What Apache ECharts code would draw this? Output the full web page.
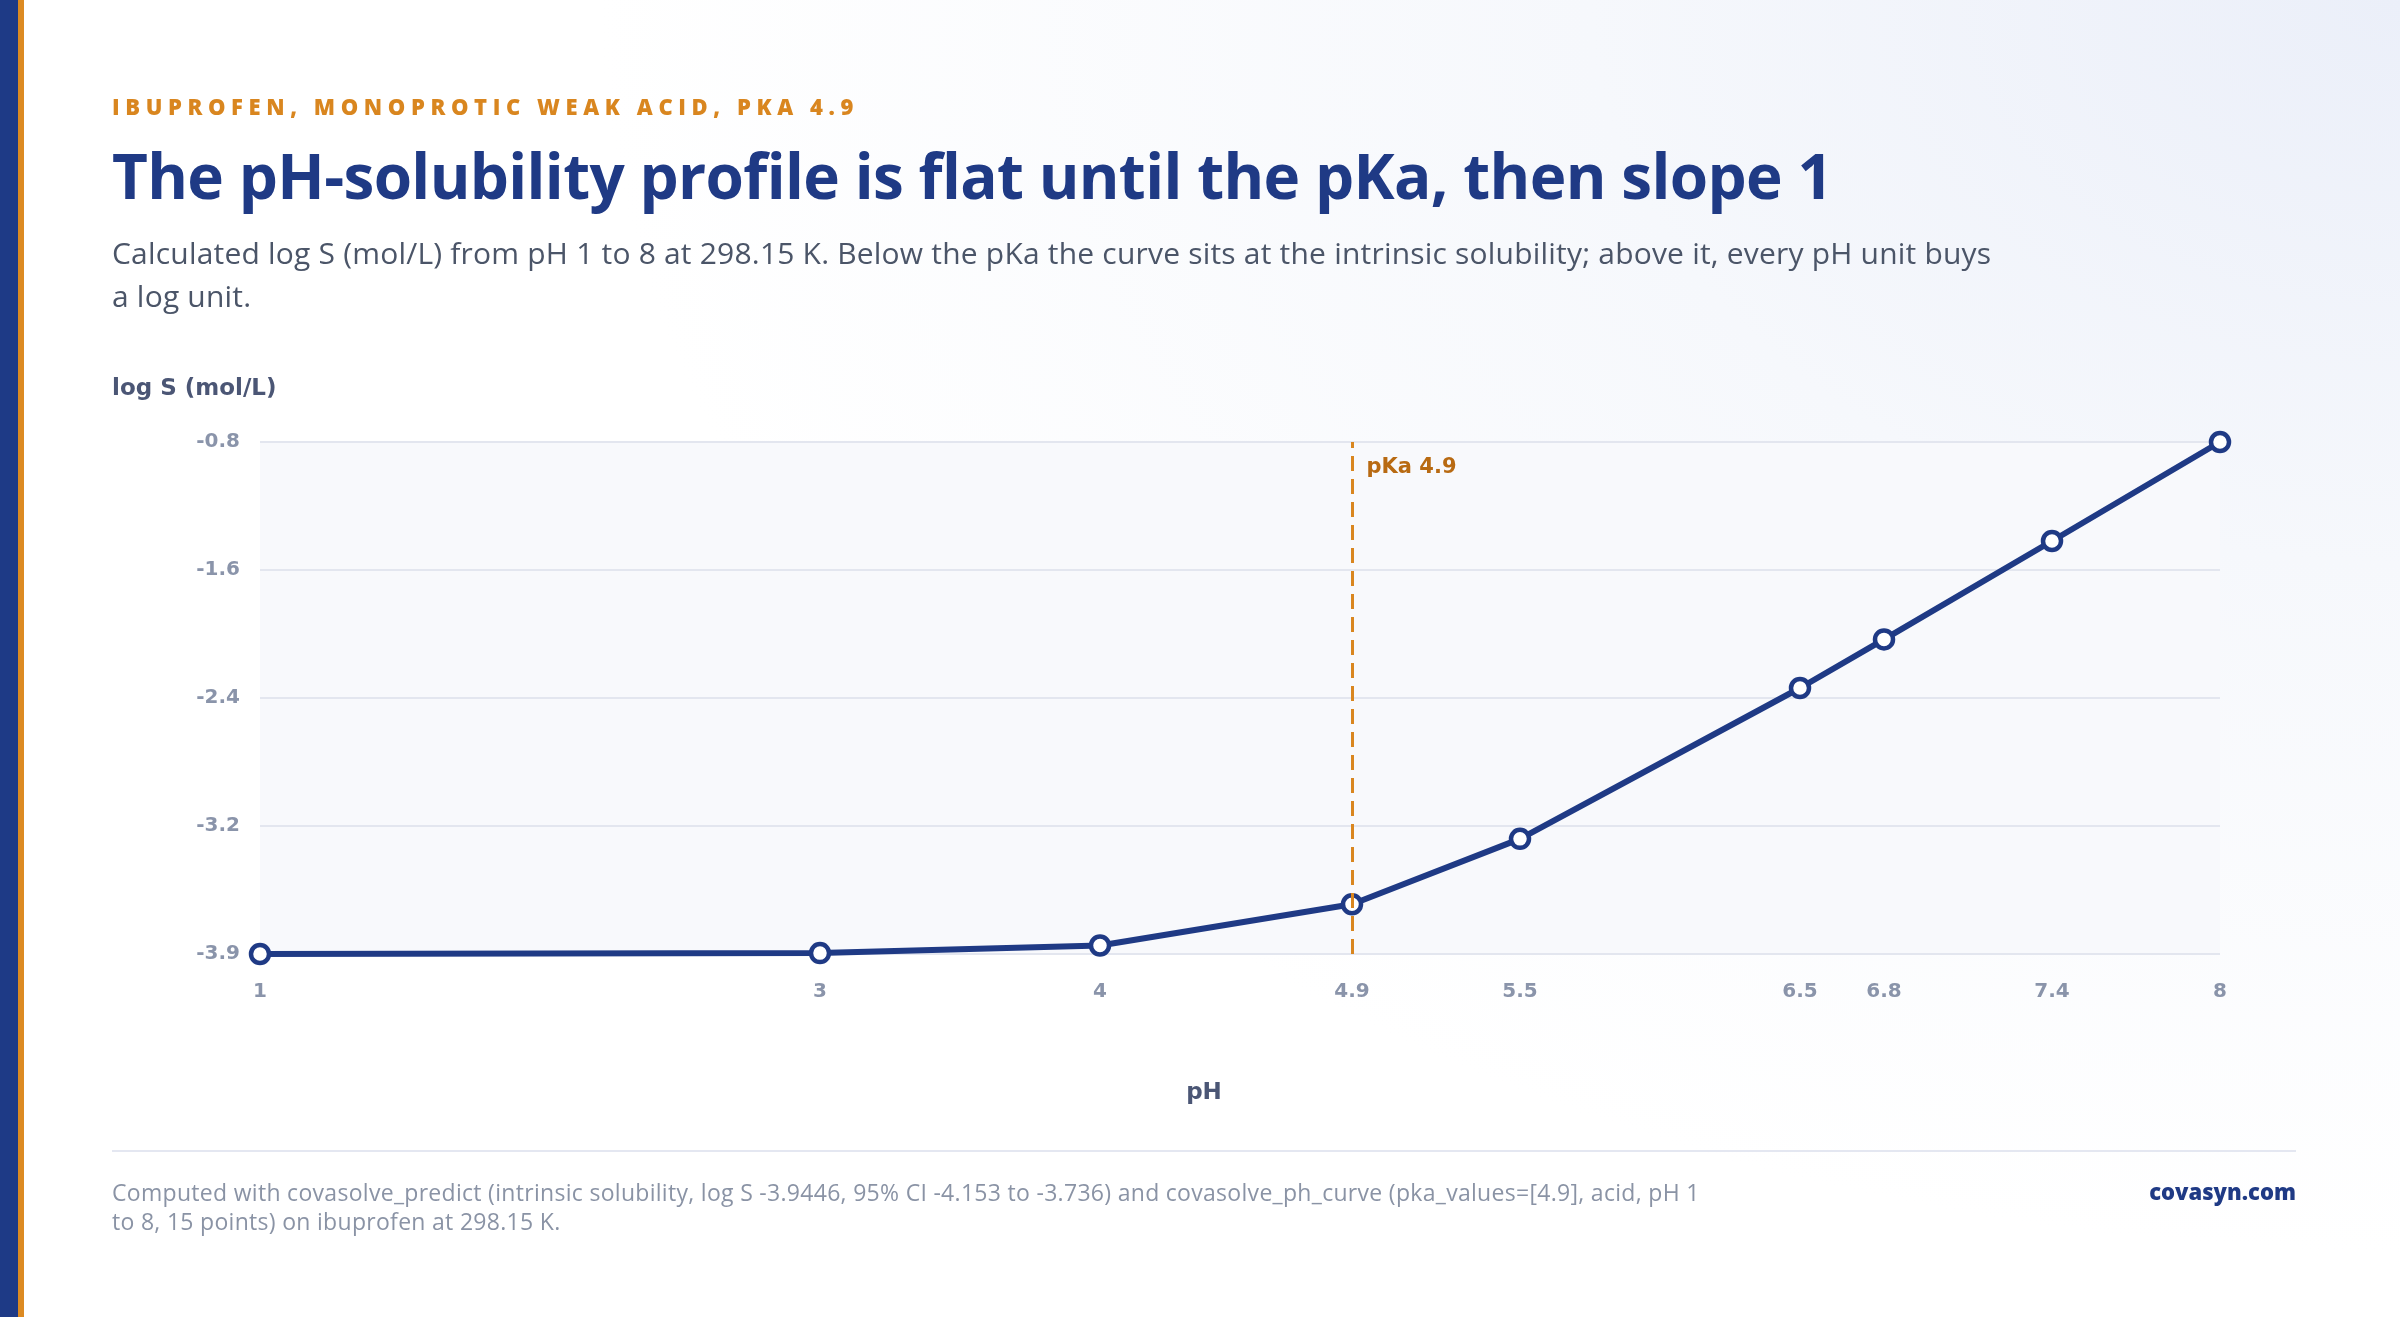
<!DOCTYPE html>
<html>
<head>
<meta charset="utf-8">
<title>pH-solubility profile</title>
<script src="https://cdn.jsdelivr.net/npm/echarts@6/dist/echarts.min.js"></script>
<style>
    html, body { margin: 0; padding: 0; width: 2400px; height: 1317px; overflow: hidden; }
    body {
        position: relative;
        font-family: "Open Sans", "Noto Sans", sans-serif;
        background: radial-gradient(ellipse 75% 95% at 100% 0%, #ebeff9 0%, #f6f8fc 45%, #ffffff 100%);
    }
    .stripe-blue { position: absolute; left: 0; top: 0; width: 18px; height: 100%; background: #1e3a86; }
    .stripe-orange { position: absolute; left: 18px; top: 0; width: 6px; height: 100%; background: #dc8a22; }
    .eyebrow {
        position: absolute; left: 112px; top: 95px;
        font-size: 22px; line-height: 1; font-weight: 800; letter-spacing: 5.6px;
        color: #d9861f; white-space: nowrap;
    }
    h1 {
        position: absolute; left: 112px; top: 144px; margin: 0;
        font-size: 62px; line-height: 1; font-weight: 700; color: #1f3a85;
        letter-spacing: -0.65px; white-space: nowrap;
    }
    .subtitle {
        position: absolute; left: 112px; top: 231px; margin: 0;
        font-size: 30px; line-height: 43px; letter-spacing: 0.2px; color: #4b5568; white-space: nowrap;
    }
    #chart { position: absolute; left: 0; top: 0; width: 2400px; height: 1317px; }
    .rule { position: absolute; left: 112px; top: 1150px; width: 2184px; height: 2px; background: #e4e7f1; }
    .footnote {
        position: absolute; left: 112px; top: 1178px;
        font-size: 23px; line-height: 29px; letter-spacing: 0.3px; color: #8a93a5; white-space: nowrap;
    }
    .brand {
        position: absolute; right: 104px; top: 1177px;
        font-size: 22px; line-height: 29px; font-weight: 800; color: #1f3a85;
    }
</style>
</head>
<body>
<div id="chart"></div>
<div class="stripe-blue"></div>
<div class="stripe-orange"></div>
<div class="eyebrow">IBUPROFEN, MONOPROTIC WEAK ACID, PKA 4.9</div>
<h1>The pH-solubility profile is flat until the pKa, then slope 1</h1>
<p class="subtitle">Calculated log S (mol/L) from pH 1 to 8 at 298.15 K. Below the pKa the curve sits at the intrinsic solubility; above it, every pH unit buys<br>a log unit.</p>
<div class="rule"></div>
<div class="footnote">Computed with covasolve_predict (intrinsic solubility, log S -3.9446, 95% CI -4.153 to -3.736) and covasolve_ph_curve (pka_values=[4.9], acid, pH 1<br>to 8, 15 points) on ibuprofen at 298.15 K.</div>
<div class="brand">covasyn.com</div>

<script>
    // values
    const phValues = [1, 3, 4, 4.9, 5.5, 6.5, 6.8, 7.4, 8];
    const logS = [-3.9446, -3.9392, -3.8931, -3.6436, -3.2474, -2.3338, -2.0394, -1.4435, -0.8442];
    const pKa = 4.9;
    const xTickValues = [1, 3, 4, 4.9, 5.5, 6.5, 6.8, 7.4, 8];
    const yTickValues = [-3.9446, -3.1695, -2.3944, -1.6193, -0.8442];

    const navy = '#1f3a85';
    const orange = '#d9861f';
    const tickGrey = '#8a94aa';
    const axisNameGrey = '#4b5675';
    const labelFont = '"DejaVu Sans", Verdana, sans-serif';

    const yMin = Math.min(...logS);
    const yMax = Math.max(...logS);

    let myChart = echarts.init(document.getElementById('chart'));

    let option = {
        animation: false,
        grid: {
            left: 260,
            right: 180,
            top: 442,
            bottom: 363,
            show: true,
            backgroundColor: '#f8f9fc',
            borderWidth: 0
        },
        xAxis: {
            type: 'value',
            min: 1,
            max: 8,
            axisLine: { show: false },
            axisTick: { show: false, customValues: xTickValues },
            splitLine: { show: false },
            axisLabel: {
                customValues: xTickValues,
                color: tickGrey,
                fontFamily: labelFont,
                fontWeight: 700,
                fontSize: 20,
                margin: 28
            }
        },
        yAxis: {
            type: 'value',
            min: yMin,
            max: yMax,
            axisLine: { show: false },
            axisTick: { show: false, customValues: yTickValues },
            splitLine: {
                show: true,
                lineStyle: { color: '#e3e6ef', width: 2 }
            },
            axisLabel: {
                customValues: yTickValues,
                color: tickGrey,
                fontFamily: labelFont,
                fontWeight: 700,
                fontSize: 20,
                margin: 20,
                formatter: function(v) {
                    return v.toFixed(1);
                }
            }
        },
        graphic: [
            {
                type: 'text',
                x: 112,
                y: 389,
                style: {
                    text: 'log S (mol/L)',
                    fill: axisNameGrey,
                    font: '700 23px ' + labelFont,
                    verticalAlign: 'middle'
                }
            },
            {
                type: 'text',
                x: 1204,
                y: 1093,
                style: {
                    text: 'pH',
                    fill: axisNameGrey,
                    font: '700 23px ' + labelFont,
                    align: 'center',
                    verticalAlign: 'middle'
                }
            }
        ],
        series: [
            {
                name: 'log S',
                type: 'line',
                data: phValues.map((x, i) => [x, logS[i]]),
                symbol: 'circle',
                symbolSize: 18,
                z: 3,
                lineStyle: { color: navy, width: 6 },
                itemStyle: { color: '#ffffff', borderColor: navy, borderWidth: 4.5 }
            },
            {
                name: 'pKa',
                type: 'line',
                data: [],
                z: 4,
                markLine: {
                    silent: true,
                    symbol: 'none',
                    label: { show: false },
                    lineStyle: { color: orange, width: 3, type: [15, 8] },
                    data: [{ xAxis: pKa }]
                },
                markPoint: {
                    silent: true,
                    symbol: 'rect',
                    symbolSize: 1,
                    itemStyle: { color: 'rgba(0,0,0,0)' },
                    label: {
                        show: true,
                        position: [15, 16],
                        formatter: 'pKa ' + pKa,
                        color: '#b86a12',
                        fontFamily: labelFont,
                        fontWeight: 700,
                        fontSize: 21
                    },
                    data: [{ coord: [pKa, yMax] }]
                }
            }
        ]
    };

    if (option && typeof option === 'object') {
        myChart.setOption(option, true);
    }
</script>
</body>
</html>
